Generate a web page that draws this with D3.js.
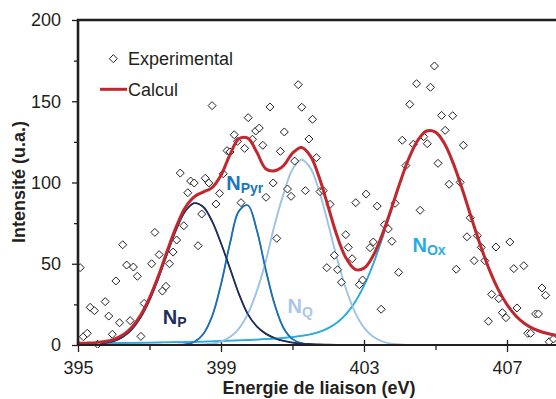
<!DOCTYPE html>
<html><head><meta charset="utf-8">
<script src="https://cdn.jsdelivr.net/npm/d3@7"></script>
<style>
body{margin:0;background:#fff}
svg{display:block}
text{font-family:"Liberation Sans",Arial,Helvetica,sans-serif}
</style>
</head><body>
<svg id="chart" width="556" height="399"></svg>
<script>
// ---------- DATA ----------
const xTicks = [395, 399, 403, 407];
const xMinorTicks = [397, 401, 405];
const yTicks = [0, 50, 100, 150, 200];
const yMinorTicks = [25, 75, 125, 175];

const legendLabels = ["Experimental", "Calcul"];
const componentNames = ["N", "N", "N", "N"];
const componentSubs = ["P", "Pyr", "Q", "Ox"];

const expEnergy = [395.06,395.15,395.26,395.34,395.46,395.55,395.76,395.86,395.96,396.06,396.16,396.25,396.36,396.46,396.55,396.66,396.76,396.85,397.06,397.15,397.27,397.36,397.46,397.56,397.66,397.76,397.86,397.96,398.07,398.15,398.25,398.36,398.46,398.56,398.66,398.75,398.86,398.96,399.06,399.17,399.25,399.37,399.46,399.56,399.66,399.76,399.88,399.97,400.07,400.17,400.26,400.37,400.46,400.56,400.66,400.77,400.86,400.96,401.06,401.16,401.26,401.36,401.46,401.56,401.67,401.77,401.86,401.96,402.05,402.17,402.26,402.37,402.49,402.56,402.67,402.77,402.87,402.96,403.06,403.17,403.26,403.37,403.48,403.57,403.68,403.78,403.87,403.97,404.07,404.17,404.28,404.38,404.47,404.57,404.67,404.77,404.86,404.97,405.07,405.17,405.27,405.38,405.48,405.58,405.69,405.78,405.88,405.97,406.08,406.17,406.28,406.38,406.48,406.57,406.69,406.77,406.87,406.97,407.08,407.19,407.28,407.47,407.58,407.66,407.80,407.88,407.98,408.08,408.18,408.30];
const expIntensity = [47.6,5.1,7.2,23.2,21.1,0.4,26.7,17.8,6.6,39.4,13.7,61.7,49.2,15.0,48.0,42.3,5.3,25.6,50.0,69.3,55.6,33.2,36.1,50.0,57.2,64.6,105.8,73.4,93.7,100.9,99.7,61.1,80.6,102.6,99.7,147.3,86.8,93.3,105.4,119.6,118.8,129.4,125.3,87.6,121.0,139.9,126.6,131.7,133.5,122.9,90.9,146.5,99.7,65.6,119.2,131.1,96.0,91.5,113.2,160.2,146.3,95.0,126.8,138.9,115.3,94.4,95.0,47.6,86.6,55.2,46.3,38.6,67.9,60.1,53.1,87.6,37.1,40.0,92.9,59.9,63.4,85.5,22.0,74.0,71.4,63.8,87.2,44.7,126.0,110.4,148.1,123.5,160.8,82.9,128.2,123.9,158.6,171.7,111.8,141.3,132.1,98.9,141.1,46.6,100.1,122.9,66.6,78.3,51.9,67.3,60.1,51.9,14.6,31.2,60.3,28.5,19.9,16.8,63.4,47.0,22.8,48.8,7.2,7.2,19.1,19.1,35.1,30.6,2.0,3.7];

const curveEnergy = [395,395.25,395.5,395.75,396,396.25,396.5,396.75,397,397.25,397.5,397.75,398,398.25,398.5,398.75,399,399.25,399.5,399.75,400,400.25,400.5,400.75,401,401.25,401.5,401.75,402,402.25,402.5,402.75,403,403.25,403.5,403.75,404,404.25,404.5,404.75,405,405.25,405.5,405.75,406,406.25,406.5,406.75,407,407.25,407.5,407.75,408,408.25,408.5];

const calcul = [1.0,1.15,1.45,2.1,3.5,6.1,10.8,18.3,29.0,42.6,58.1,72.9,84.6,91.2,94.1,96.9,104.5,117.1,126.9,127.3,118.7,108.5,107.2,110.4,118.1,121.6,116.4,103.0,84.9,66.9,53.4,46.6,47.3,54.7,67.3,82.9,99.5,114.6,125.8,131.7,131.0,124.0,111.6,95.8,78.5,61.7,46.7,34.4,24.9,17.9,13.1,9.9,7.85,6.5,5.6];
const nP = [0.05,0.15,0.4,1.0,2.3,4.9,9.5,16.9,27.5,41.1,56.5,71.1,82.3,87.3,85.1,76.2,62.6,47.2,31.5,19.0,11.5,7.0,4.2,2.5,1.5,0.9,0.5,0.3,0.2,0.1,0.1,0.1,0.1,0.1,0.1,0.1,0,0,0,0,0,0,0,0,0,0,0,0,0,0,0,0,0,0,0];
const nPyr = [0,0,0,0,0,0,0,0,0,0,0,0.1,0.45,1.9,6.6,17.6,37.3,62.4,82.4,86.0,70.8,46.5,25.0,10.5,3.6,1.1,0.3,0.1,0,0,0,0,0,0,0,0,0,0,0,0,0,0,0,0,0,0,0,0,0,0,0,0,0,0,0];
const nQ = [0,0,0,0,0,0,0,0,0,0,0,0,0,0,0.3,0.8,2.1,4.9,10.1,19.2,33.0,51.4,74.0,93.0,108.1,114.0,109.0,94.5,74.3,53.0,34.3,20.1,10.7,5.2,2.3,0.9,0.3,0.1,0,0,0,0,0,0,0,0,0,0,0,0,0,0,0,0,0];
const nOx = [0.95,1.0,1.05,1.1,1.16,1.23,1.3,1.37,1.45,1.54,1.64,1.74,1.86,1.98,2.12,2.28,2.45,2.64,2.85,3.08,3.35,3.64,3.97,4.4,4.9,5.6,6.6,8.1,10.4,13.8,19.0,26.4,36.5,49.4,64.9,81.9,99.1,114.4,125.7,131.6,130.9,123.9,111.5,95.7,78.4,61.6,46.6,34.3,24.8,17.8,13.0,9.8,7.75,6.4,5.5];

// ---------- CHART ----------
const W = 556, H = 399;
const ink = "#231f20";
const colP = "#1f2d5f", colPyr = "#1b6fb8", colQ = "#9dc3e6", colOx = "#29abe2", colCalc = "#c1272d";
const labelColors = ["#1f2d5f", "#1b75bc", "#a9c6e8", "#29abe2"];

const svg = d3.select("#chart");
const x = d3.scaleLinear().domain([395, 407]).range([78, 507]);
const y = d3.scaleLinear().domain([0, 200]).range([345, 20]);

svg.append("defs").append("clipPath").attr("id", "plotClip")
  .append("rect").attr("x", 78).attr("y", 18).attr("width", W - 78).attr("height", 330);

// Y axis
const yAx = svg.append("g").attr("transform", "translate(78,0)")
  .call(d3.axisLeft(y).tickValues(yTicks).tickSize(6).tickPadding(11).tickSizeOuter(0));
const yMin = svg.append("g").attr("transform", "translate(78,0)")
  .call(d3.axisLeft(y).tickValues(yMinorTicks).tickSize(4).tickFormat(""));
// X axis
const xAx = svg.append("g").attr("transform", "translate(0,345)")
  .call(d3.axisBottom(x).tickValues(xTicks).tickSize(7).tickPadding(9).tickSizeOuter(0));
const xIn = svg.append("g").attr("transform", "translate(0,345)")
  .call(d3.axisTop(x).tickValues(xTicks).tickSize(5).tickFormat(""));
const xMin = svg.append("g").attr("transform", "translate(0,345)")
  .call(d3.axisBottom(x).tickValues(xMinorTicks).tickSize(5).tickFormat(""));

[yAx, yMin, xAx, xIn, xMin].forEach(g => {
  g.select(".domain").remove();
  g.selectAll(".tick line").attr("stroke", ink).attr("stroke-width", 1.3);
  g.selectAll(".tick text").attr("fill", ink).style("font-size", "18px")
    .style("font-family", '"Liberation Sans", Arial, sans-serif');
});

// Curves
const line = d3.line()
  .x((d, i) => x(curveEnergy[i]))
  .y(d => y(d))
  .curve(d3.curveCatmullRom.alpha(0.5));

const plot = svg.append("g").attr("clip-path", "url(#plotClip)");

const comps = [
  {vals: nOx, color: colOx},
  {vals: nQ, color: colQ},
  {vals: nPyr, color: colPyr},
  {vals: nP, color: colP}
];
comps.forEach(c => {
  plot.append("path").datum(c.vals).attr("d", line)
    .attr("fill", "none").attr("stroke", c.color).attr("stroke-width", 1.8);
});

// Axis lines (frame)
svg.append("line").attr("x1", 78).attr("x2", W).attr("y1", 345).attr("y2", 345)
  .attr("stroke", ink).attr("stroke-width", 2.2);
svg.append("line").attr("x1", 78).attr("x2", 78).attr("y1", 19).attr("y2", 346)
  .attr("stroke", ink).attr("stroke-width", 2.6);
svg.append("line").attr("x1", 77).attr("x2", W).attr("y1", 20).attr("y2", 20)
  .attr("stroke", ink).attr("stroke-width", 2.6);

// component bases drawn again over the axis line
comps.forEach(c => {
  plot.append("path").datum(c.vals).attr("d", line)
    .attr("fill", "none").attr("stroke", c.color).attr("stroke-width", 1.2).attr("opacity", 0.9);
});

// Experimental points
const diamond = "M0,-4L4,0L0,4L-4,0Z";
plot.selectAll("path.pt").data(expIntensity).enter().append("path")
  .attr("class", "pt")
  .attr("d", diamond)
  .attr("transform", (d, i) => `translate(${x(expEnergy[i])},${y(d)})`)
  .attr("fill", "#fff").attr("stroke", ink).attr("stroke-width", 1);

// Calcul curve
plot.append("path").datum(calcul).attr("d", line)
  .attr("fill", "none").attr("stroke", colCalc).attr("stroke-width", 3);

// Legend
svg.append("path").attr("d", diamond).attr("transform", "translate(113.3,58.7)")
  .attr("fill", "#fff").attr("stroke", ink).attr("stroke-width", 1);
svg.append("text").attr("x", 128).attr("y", 64.5).text(legendLabels[0])
  .attr("fill", ink).style("font-size", "18px");
svg.append("line").attr("x1", 100).attr("x2", 127).attr("y1", 89.3).attr("y2", 89.3)
  .attr("stroke", colCalc).attr("stroke-width", 3);
svg.append("text").attr("x", 128).attr("y", 95.8).text(legendLabels[1])
  .attr("fill", ink).style("font-size", "18px");

// Component labels
const labelPos = [[162.8, 324, 3], [226.2, 190, 3], [287.5, 313, 3.7], [412.5, 251.7, 3.5]];
componentNames.forEach((n, i) => {
  const t = svg.append("text").attr("x", labelPos[i][0]).attr("y", labelPos[i][1])
    .attr("fill", labelColors[i]).style("font-weight", "bold");
  t.append("tspan").text(n).style("font-size", "20px");
  t.append("tspan").text(componentSubs[i]).attr("dy", labelPos[i][2]).style("font-size", "14px");
});

// Axis titles
svg.append("text").attr("x", 319).attr("y", 393.5).attr("text-anchor", "middle")
  .attr("fill", ink).style("font-size", "18px").style("font-weight", "bold")
  .text("Energie de liaison (eV)");
svg.append("text").attr("transform", "translate(24.5,182) rotate(-90)").attr("text-anchor", "middle")
  .attr("fill", ink).style("font-size", "18px").style("font-weight", "bold")
  .text("Intensité (u.a.)");
</script>
</body></html>
